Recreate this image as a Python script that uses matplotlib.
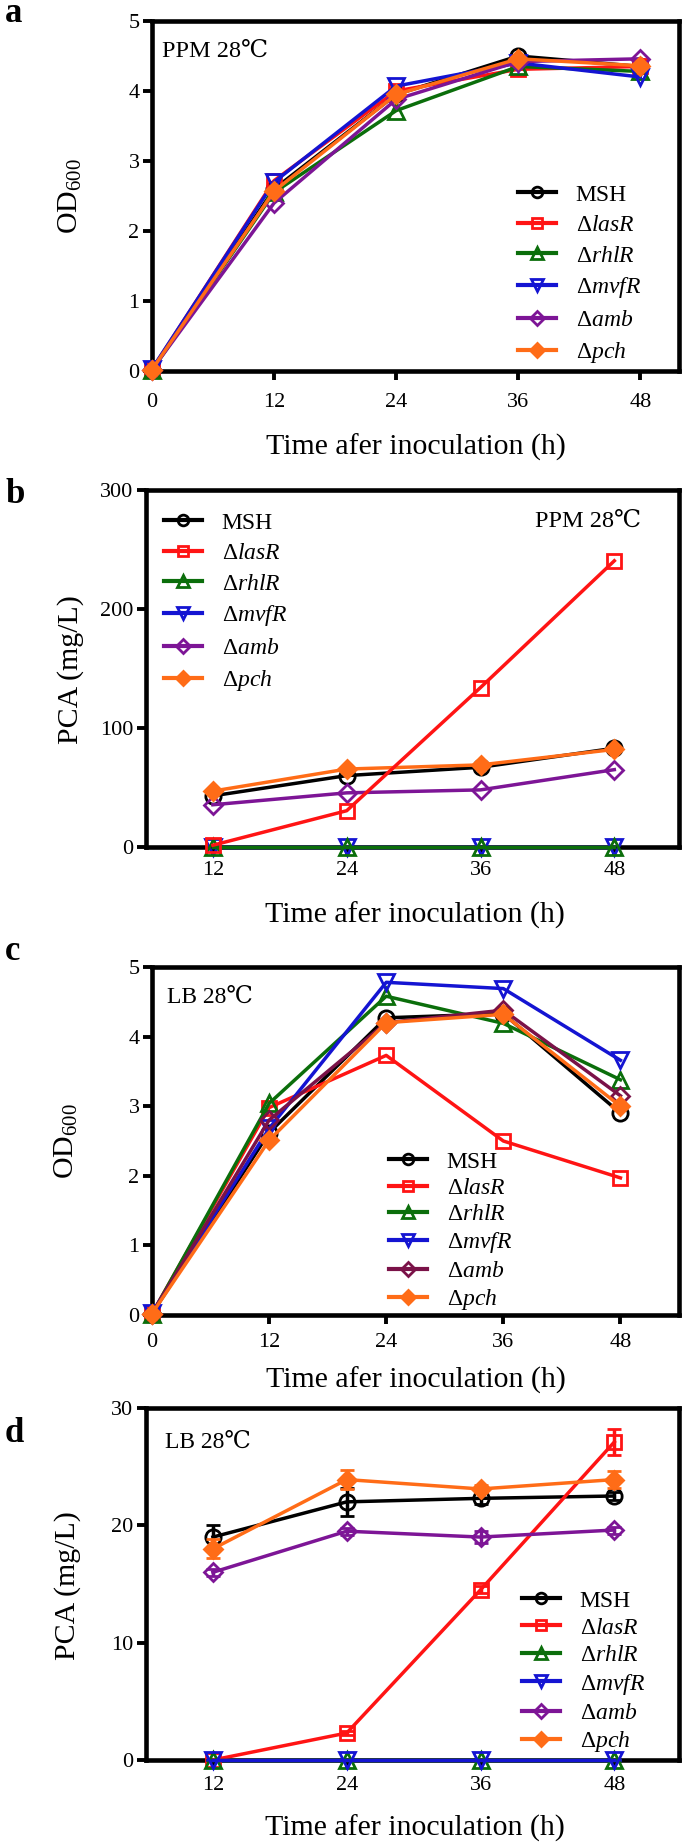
import numpy as np
import matplotlib
matplotlib.use('Agg')
import matplotlib.pyplot as plt

plt.rcParams['font.family'] = ['Liberation Serif', 'DejaVu Serif', 'Noto Sans CJK JP']
plt.rcParams['mathtext.fontset'] = 'custom'
plt.rcParams['mathtext.rm'] = 'Liberation Serif'
plt.rcParams['mathtext.it'] = 'Liberation Serif:italic'
plt.rcParams['mathtext.bf'] = 'Liberation Serif:bold'

# ---------------- data ----------------
strains = ['MSH', 'Δ$\\mathit{lasR}$', 'Δ$\\mathit{rhlR}$', 'Δ$\\mathit{mvfR}$',
           'Δ$\\mathit{amb}$', 'Δ$\\mathit{pch}$']
time_od = [0, 12, 24, 36, 48]
time_pca = [12, 24, 36, 48]

# a: OD600, PPM 28 C
a_msh = [0.02, 2.60, 3.95, 4.50, 4.35]
a_lasR = [0.02, 2.72, 4.00, 4.31, 4.35]
a_rhlR = [0.01, 2.55, 3.72, 4.35, 4.28]
a_mvfR = [0.03, 2.70, 4.07, 4.40, 4.20]
a_amb = [0.02, 2.40, 3.88, 4.42, 4.46]
a_pch = [0.02, 2.57, 3.95, 4.46, 4.36]

# b: PCA (mg/L), PPM 28 C
b_msh = [43, 60, 67, 83]
b_lasR = [1.5, 30.5, 134, 240.5]
b_rhlR = [0, 0, 0, 0]
b_mvfR = [0, 0, 0, 0]
b_amb = [35.5, 45.5, 48, 65]
b_pch = [47, 65.5, 69, 82]

# c: OD600, LB 28 C
c_msh = [0.02, 2.62, 4.27, 4.33, 2.90]
c_lasR = [0.02, 2.98, 3.73, 2.50, 1.97]
c_rhlR = [0.01, 3.04, 4.58, 4.19, 3.38]
c_mvfR = [0.03, 2.68, 4.78, 4.69, 3.66]
c_amb = [0.02, 2.80, 4.20, 4.38, 3.15]
c_pch = [0.02, 2.51, 4.20, 4.32, 3.00]

# d: PCA (mg/L), LB 28 C, with error bars
d_msh = [19.0, 22.0, 22.3, 22.5]
d_lasR = [0.0, 2.3, 14.5, 27.1]
d_rhlR = [0, 0, 0, 0]
d_mvfR = [0, 0, 0, 0]
d_amb = [16.0, 19.5, 19.0, 19.6]
d_pch = [18.0, 23.9, 23.1, 23.9]
d_msh_err = [1.0, 1.2, 0.5, 0.3]
d_lasR_err = [0.0, 0.2, 0.3, 1.1]
d_rhlR_err = [0, 0, 0, 0]
d_mvfR_err = [0, 0, 0, 0]
d_amb_err = [0.3, 0.3, 0.5, 0.3]
d_pch_err = [0.8, 0.8, 0.3, 0.7]

# ---------------- styles ----------------
colors = ['#000000', '#ff1414', '#0b6e0b', '#1414d2', '#7d1596', '#ff6c17']
colors_c = ['#000000', '#ff1414', '#0b6e0b', '#1414d2', '#7a1248', '#ff6c17']
markers = ['o', 's', '^', 'v', 'D', 'D']
msizes = [11, 10.5, 11.5, 11.5, 9.5, 9.5]
filled = [False, False, False, False, False, True]

W, H = 685, 1848
fig = plt.figure(figsize=(W / 100, H / 100), dpi=100)


def make_axes(l, t, r, b):
    ax = fig.add_axes([l / W, 1 - b / H, (r - l) / W, (b - t) / H])
    ax._box = (l, t, r, b)
    return ax


def ax_frac(ax, px, py):
    l, t, r, b = ax._box
    return (px - l) / (r - l), (b - py) / (b - t)


def style_axes(ax, xpad):
    for s in ax.spines.values():
        s.set_linewidth(3.3)
        s.set_capstyle('projecting')
        s.set_zorder(2.5)
    ax.tick_params(axis='both', direction='out', length=6.5, width=2.8,
                   labelsize=16, top=False, right=False)
    ax.tick_params(axis='x', pad=xpad)
    ax.tick_params(axis='y', pad=2.5)


def plot_series(ax, x, ys, cols, errs=None, zorders=None):
    handles = []
    for i, y in enumerate(ys):
        c = cols[i]
        z = 3 + i * 0.1 if zorders is None else zorders[i]
        kw = dict(color=c, lw=2.5, marker=markers[i], ms=msizes[i],
                  mec=c, mew=2.0, mfc=c if filled[i] else 'none',
                  clip_on=False, zorder=z)
        if errs is not None:
            eb = ax.errorbar(x, y, yerr=errs[i], capsize=4.8, elinewidth=2.5,
                             capthick=2.5, **kw)
            for art in eb.lines[1] + eb.lines[2]:
                art.set_clip_on(False)
            handles.append(eb.lines[0])
        else:
            ln, = ax.plot(x, y, **kw)
            handles.append(ln)
    return handles


def add_legend(ax, handles, px, py, spacing):
    leg = ax.legend(handles, strains, loc='upper left',
                    bbox_to_anchor=(px / W, 1 - py / H), bbox_transform=fig.transFigure,
                    frameon=False, borderpad=0, borderaxespad=0, handlelength=1.6,
                    handletextpad=0.85, labelspacing=spacing, markerscale=0.7,
                    fontsize=17)
    for ln in leg.get_lines():
        ln.set_linewidth(3.0)


def set_labels(ax, xlabel, ylabel, xl_center, yl_center):
    ax.set_xlabel(xlabel, fontsize=21.5)
    ax.set_ylabel(ylabel, fontsize=21.5)
    ax.xaxis.label.set_va('center')
    ax.yaxis.label.set_va('center')
    ax.yaxis.label.set_ha('center')
    ax.xaxis.set_label_coords(*ax_frac(ax, *xl_center))
    ax.yaxis.set_label_coords(*ax_frac(ax, *yl_center))


xlab = 'Time afer inoculation (h)'

# ---------------- panel a ----------------
ax = make_axes(152, 21, 679, 371)
style_axes(ax, 9.5)
h = plot_series(ax, time_od, [a_msh, a_lasR, a_rhlR, a_mvfR, a_amb, a_pch], colors)
ax.set_xlim(0, 51.8)
ax.set_ylim(0, 5)
ax.set_xticks(time_od)
ax.set_yticks([0, 1, 2, 3, 4, 5])
set_labels(ax, xlab, 'OD$_{600}$', (416, 447), (70, 196))
add_legend(ax, h, 518, 184, 0.38)
ax.text(*ax_frac(ax, 162, 57), 'PPM 28℃', transform=ax.transAxes, fontsize=17.5,
        ha='left', va='baseline')

# ---------------- panel b ----------------
ax = make_axes(146, 490, 679, 847)
style_axes(ax, 3.5)
h = plot_series(ax, time_pca, [b_msh, b_lasR, b_rhlR, b_mvfR, b_amb, b_pch], colors,
                zorders=[3.0, 3.6, 3.3, 3.2, 3.4, 3.5])
ax.set_xlim(6, 53.8)
ax.set_ylim(0, 300)
ax.set_xticks(time_pca)
ax.set_yticks([0, 100, 200, 300])
set_labels(ax, xlab, 'PCA (mg/L)', (415, 915), (71, 670))
add_legend(ax, h, 164, 512, 0.38)
ax.text(*ax_frac(ax, 641, 527), 'PPM 28℃', transform=ax.transAxes, fontsize=17.5,
        ha='right', va='baseline')

# ---------------- panel c ----------------
ax = make_axes(152, 967, 679, 1315)
style_axes(ax, 6.5)
h = plot_series(ax, time_od, [c_msh, c_lasR, c_rhlR, c_mvfR, c_amb, c_pch], colors_c)
ax.set_xlim(0, 54)
ax.set_ylim(0, 5)
ax.set_xticks(time_od)
ax.set_yticks([0, 1, 2, 3, 4, 5])
set_labels(ax, xlab, 'OD$_{600}$', (416, 1380), (66, 1141))
add_legend(ax, h, 389, 1151, 0.21)
ax.text(*ax_frac(ax, 167, 1003), 'LB 28℃', transform=ax.transAxes, fontsize=17,
        ha='left', va='baseline')

# ---------------- panel d ----------------
ax = make_axes(146, 1408, 679, 1760)
style_axes(ax, 5)
h = plot_series(ax, time_pca, [d_msh, d_lasR, d_rhlR, d_mvfR, d_amb, d_pch], colors,
                errs=[d_msh_err, d_lasR_err, d_rhlR_err, d_mvfR_err, d_amb_err, d_pch_err])
ax.set_xlim(6, 53.8)
ax.set_ylim(0, 30)
ax.set_xticks(time_pca)
ax.set_yticks([0, 10, 20, 30])
set_labels(ax, xlab, 'PCA (mg/L)', (415, 1828), (68, 1586))
add_legend(ax, h, 522, 1590, 0.24)
ax.text(*ax_frac(ax, 165, 1448), 'LB 28℃', transform=ax.transAxes, fontsize=17,
        ha='left', va='baseline')

# ---------------- panel letters ----------------
for letter, base in [('a', 22), ('b', 503), ('c', 960), ('d', 1442)]:
    fig.text(5 / W, 1 - base / H, letter, fontsize=25, fontweight='bold',
             ha='left', va='baseline')

fig.savefig('out.png', dpi=100)
